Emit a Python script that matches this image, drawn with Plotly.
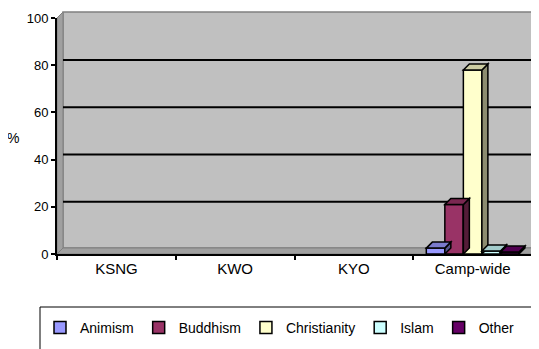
import plotly.graph_objects as go

# Data
categories = ["KSNG", "KWO", "KYO", "Camp-wide"]
religions = ["Animism", "Buddhism", "Christianity", "Islam", "Other"]
animism = [None, None, None, 2.5]
buddhism = [None, None, None, 21]
christianity = [None, None, None, 78]
islam = [None, None, None, 1.3]
other = [None, None, None, 0.8]
y_ticks = [0, 20, 40, 60, 80, 100]

series = [animism, buddhism, christianity, islam, other]
colors = ["#9999FF", "#993366", "#FFFFCC", "#CCFFFF", "#660066"]

# layout numbers (pixels); the page body adds an 8px margin, so the figure is 8px smaller
W, H = 531, 341
ML, MR, MT, MB = 49, 7, 10, 95
PW, PH = W - ML - MR, H - MT - MB
DEPTH = 6  # pseudo 3D depth in px
BARGAP = 0.22


def shade(hexcol, f):
    r, g, b = (int(hexcol[i:i + 2], 16) for i in (1, 3, 5))
    return "#%02x%02x%02x" % (int(r * f), int(g * f), int(b * f))


def px_x(p):
    return (p - ML) / PW


def px_y(p):
    return (H - MB - p) / PH


fig = go.Figure()
for name, vals, col in zip(religions, series, colors):
    fig.add_trace(go.Bar(
        x=categories, y=vals, name=name,
        marker=dict(color=col, line=dict(color="black", width=1.5)),
    ))

dxp = DEPTH / PW  # paper units
dyp = DEPTH / PH
dy_data = DEPTH * 100 / PH

shapes = []
# back wall, left wall, floor
shapes.append(dict(type="path", xref="paper", yref="paper", layer="below",
                   path=f"M{dxp},{dyp} L{1 + dxp},{dyp} L{1 + dxp},{1 + dyp} L{dxp},{1 + dyp} Z",
                   fillcolor="#C0C0C0", line=dict(color="#808080", width=1.5)))
shapes.append(dict(type="path", xref="paper", yref="paper", layer="below",
                   path=f"M0,0 L0,1 L{dxp},{1 + dyp} L{dxp},{dyp} Z",
                   fillcolor="#A0A0A0", line=dict(color="#808080", width=1)))
shapes.append(dict(type="path", xref="paper", yref="paper", layer="below",
                   path=f"M0,0 L1,0 L{1 + dxp},{dyp} L{dxp},{dyp} Z",
                   fillcolor="#A0A0A0", line=dict(color="#808080", width=1)))
# gridlines on the back wall
for t in y_ticks[1:-1]:
    shapes.append(dict(type="line", xref="paper", yref="y", layer="below",
                       x0=dxp, x1=1 + dxp, y0=t + dy_data * 0.85, y1=t + dy_data * 0.85,
                       line=dict(color="black", width=2)))

# 3D top and side faces of bars
n = len(series)
bw = (1 - BARGAP) / n
bw_px = bw * PW / len(categories)
for j, (vals, col) in enumerate(zip(series, colors)):
    for ci, v in enumerate(vals):
        if v is None:
            continue
        xr = ci - (1 - BARGAP) / 2 + (j + 1) * bw
        shapes.append(dict(type="path", xref="x", yref="y", xsizemode="pixel", xanchor=xr,
                           path=f"M0,0 L{DEPTH},{dy_data} L{DEPTH},{v + dy_data} L0,{v} Z",
                           fillcolor=shade(col, 0.55), line=dict(color="black", width=1.5)))
        shapes.append(dict(type="path", xref="x", yref="y", xsizemode="pixel", xanchor=xr,
                           path=f"M0,{v} L{-bw_px},{v} L{-bw_px + DEPTH},{v + dy_data} L{DEPTH},{v + dy_data} Z",
                           fillcolor=shade(col, 0.8), line=dict(color="black", width=1.5)))

# legend frame running off the right and bottom edges
shapes.append(dict(type="rect", xref="paper", yref="paper",
                   x0=px_x(32), x1=px_x(W + 20), y0=px_y(299), y1=px_y(H + 20),
                   line=dict(color="black", width=1), fillcolor="rgba(0,0,0,0)"))

fig.update_layout(
    width=W, height=H,
    margin=dict(l=ML, r=MR, t=MT, b=MB, autoexpand=False),
    barmode="group", bargap=BARGAP, bargroupgap=0,
    plot_bgcolor="white", paper_bgcolor="white",
    font=dict(family="Liberation Sans, Arial", size=14, color="black"),
    shapes=shapes,
    showlegend=True,
    legend=dict(orientation="h", x=px_x(32), xanchor="left", y=px_y(304), yanchor="top",
                borderwidth=0, bgcolor="rgba(0,0,0,0)",
                itemwidth=30, font=dict(size=14), traceorder="normal"),
    xaxis=dict(showline=True, linecolor="black", linewidth=2, ticks="outside",
               tickson="boundaries", ticklen=4, tickwidth=2, tickcolor="black",
               showgrid=False, range=[-0.5, 3.5], automargin=False,
               tickfont=dict(size=15)),
    yaxis=dict(range=[0, 100], tickvals=y_ticks, showgrid=False, zeroline=False,
               showline=True, linecolor="black", linewidth=2, ticks="outside",
               ticklen=4, tickwidth=1.5, tickcolor="black", automargin=False,
               tickfont=dict(size=13)),
    annotations=[dict(text="%", xref="paper", yref="paper", x=px_x(5), y=px_y(130),
                      xanchor="center", yanchor="middle",
                      showarrow=False, font=dict(size=14))],
)

fig.write_html("out.html")
